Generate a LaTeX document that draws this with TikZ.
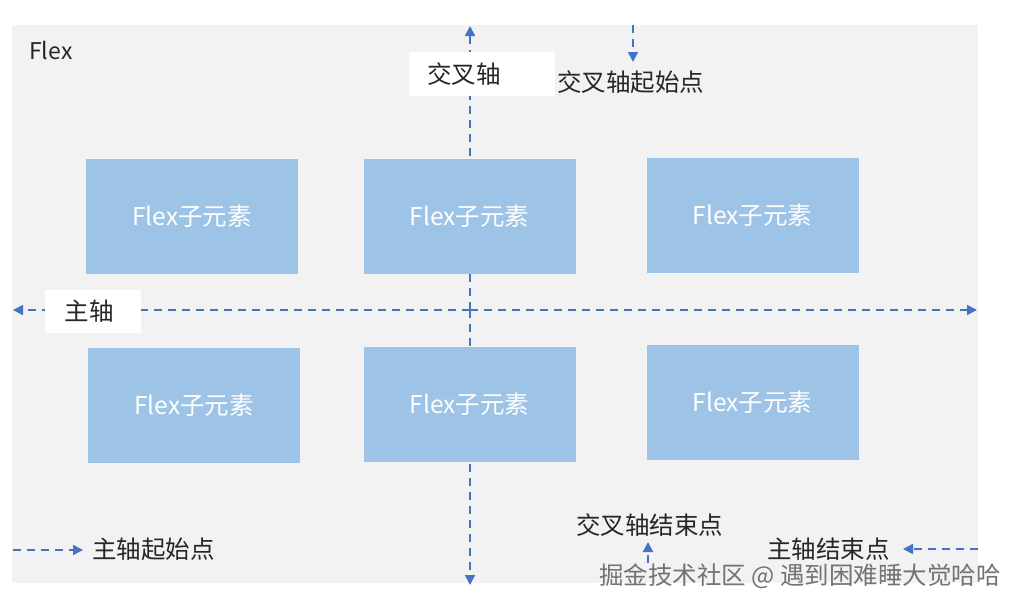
\documentclass[tikz,border=0pt]{standalone}
\usepackage{fontspec}
\setmainfont{Noto Sans CJK SC}
\usetikzlibrary{arrows.meta}
\definecolor{bgray}{HTML}{F2F2F2}
\definecolor{boxblue}{HTML}{9DC3E6}
\definecolor{axisblue}{HTML}{4472C4}
\tikzset{
  child/.style={fill=boxblue, draw=none, minimum width=212pt, minimum height=115pt, text=white, font=\fontsize{24.5}{28}\selectfont, inner sep=0pt},
  axis/.style={draw=axisblue, line width=1.6pt, dash pattern=on 8pt off 6pt, -{Triangle[length=10pt,width=10pt]}},
  lbl/.style={font=\fontsize{24.5}{28}\selectfont, text=black!85, inner sep=0pt},
  lblbox/.style={fill=white, font=\fontsize{24.5}{28}\selectfont, text=black!85, inner sep=0pt},
}
\begin{document}
\begin{tikzpicture}[x=1pt,y=-1pt]
\useasboundingbox (0,0) rectangle (1012,608);
\fill[white] (0,0) rectangle (1012,608);
\fill[bgray] (12,25) rectangle (978,583);
\node[lbl, anchor=west, font=\fontsize{23}{26}\selectfont] (flex) at (29,50) {Flex};
% axis coordinates
\coordinate (mL) at (13,310);
\coordinate (mR) at (977,310);
\coordinate (mM) at (470,310);
\coordinate (cT) at (470,26);
\coordinate (cB) at (470,585);
% main axis
\draw[axis] (mM) -- (mL);
\draw[axis] (mM) -- (mR);
% cross axis
\draw[axis] (mM) -- (cT);
\draw[axis] (mM) -- (cB);
% children
\node[child] (c1) at (192,216.5) {Flex子元素};
\node[child] (c2) at (469.5,216) {Flex子元素};
\node[child] (c3) at (752.5,215) {Flex子元素};
\node[child] (c4) at (194,405.5) {Flex子元素};
\node[child] (c5) at (469.5,404) {Flex子元素};
\node[child] (c6) at (752.5,402.5) {Flex子元素};
% axis labels
\node[lblbox, minimum width=96pt, minimum height=43pt] (main) at (93,311.5) {\hspace*{-8pt}主轴};
\node[lblbox, minimum width=146pt, minimum height=44pt] (cross) at (482,74) {\hspace*{-36pt}交叉轴};
% cross axis start
\coordinate (csA) at (633,25);
\coordinate (csB) at (633,62);
\draw[axis] (csA) -- (csB);
\node[lbl, anchor=west] (cstart) at (557,82) {交叉轴起始点};
% main axis start
\coordinate (msA) at (13,550);
\coordinate (msB) at (83,550);
\draw[axis] (msA) -- (msB);
\node[lbl, anchor=west] (mstart) at (92,549) {主轴起始点};
% cross axis end
\node[lbl, anchor=west] (cend) at (576,525) {交叉轴结束点};
\coordinate (ceA) at (648,563);
\coordinate (ceB) at (648,542);
\draw[axis] (ceA) -- (ceB);
% main axis end
\node[lbl, anchor=west] (mend) at (767,549) {主轴结束点};
\coordinate (meA) at (978,549);
\coordinate (meB) at (903,549);
\draw[axis] (meA) -- (meB);
% watermark
\node[font=\fontsize{24.5}{28}\selectfont, text=black!55, anchor=west, inner sep=0pt] (wm) at (599,576) {掘金技术社区 @ 遇到困难睡大觉哈哈};
\end{tikzpicture}
\end{document}
